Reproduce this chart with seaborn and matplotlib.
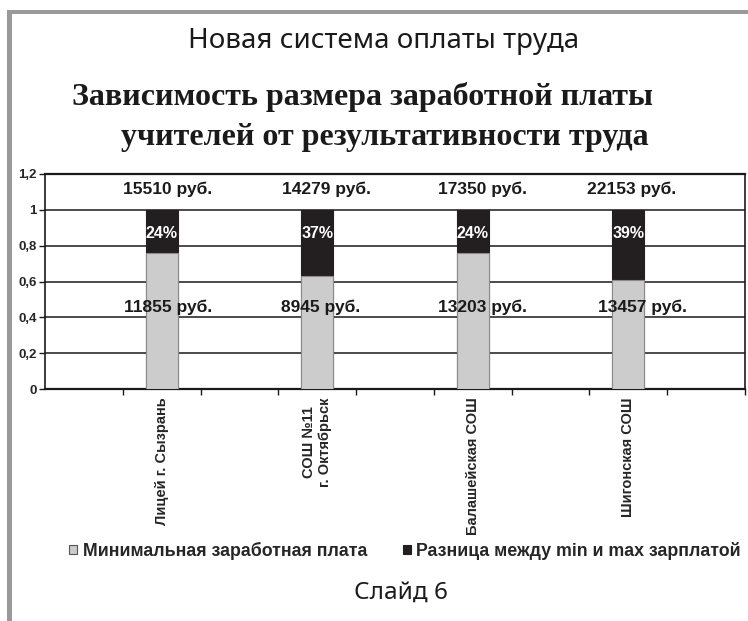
import pandas as pd
import numpy as np
import matplotlib.pyplot as plt
import seaborn as sns
from matplotlib.patches import Patch, Rectangle
from matplotlib.ticker import FixedLocator

sns.set_style("white")
plt.rcParams['font.family'] = ['Liberation Sans', 'DejaVu Sans']

# Chart data
schools = ['Лицей г. Сызрань', 'СОШ №11\nг. Октябрьск', 'Балашейская СОШ', 'Шигонская СОШ']
min_share = [0.76, 0.63, 0.76, 0.61]
diff_share = [0.24, 0.37, 0.24, 0.39]
pct_labels = ['24%', '37%', '24%', '39%']
max_salary = ['15510 руб.', '14279 руб.', '17350 руб.', '22153 руб.']
min_salary = ['11855 руб.', '8945 руб.', '13203 руб.', '13457 руб.']
y_ticks = [0, 0.2, 0.4, 0.6, 0.8, 1.0, 1.2]
y_tick_labels = ['0', '0,2', '0,4', '0,6', '0,8', '1', '1,2']
legend_labels = ['Минимальная заработная плата', 'Разница между min и max зарплатой']

df = pd.DataFrame({'school': schools, 'min_share': min_share, 'diff_share': diff_share})
df['total'] = df['min_share'] + df['diff_share']

W, H = 748, 621
fig = plt.figure(figsize=(W / 100, H / 100), dpi=100)

# slide frame
fig.add_artist(Rectangle((7 / W, 0), 5 / W, 1 - 10 / H, transform=fig.transFigure,
                         color='#9a9a9a', lw=0))
fig.add_artist(Rectangle((7 / W, 1 - 14 / H), 1, 4 / H, transform=fig.transFigure,
                         color='#9a9a9a', lw=0))

ax = fig.add_axes([45 / W, 1 - 389 / H, 700 / W, 215 / H])

dark = '#231f20'
light = '#cccccc'
bw = 0.205
sns.barplot(data=df, x='school', y='total', color=dark, saturation=1, width=bw,
            edgecolor=dark, linewidth=0.8, ax=ax, zorder=3)
sns.barplot(data=df, x='school', y='min_share', color=light, saturation=1, width=bw,
            edgecolor='#8a8a8a', linewidth=0.8, ax=ax, zorder=3)

ax.set_xlim(-0.75, 3.75)
ax.set_ylim(0, 1.2)
ax.set_yticks(y_ticks)
ax.set_yticklabels(y_tick_labels, fontweight='bold', fontsize=9.5)
ax.yaxis.grid(True, color='#1a1a1a', lw=1.1)
ax.set_axisbelow(True)
ax.tick_params(axis='y', length=4, width=1, color='#1a1a1a', pad=2, left=True)
ax.set_xticks(range(len(schools)))
ax.set_xticklabels(schools, rotation=90, va='top', ha='center', fontweight='bold',
                   fontsize=10.5, multialignment='center')
ax.tick_params(axis='x', which='major', length=0, pad=6)
ax.xaxis.set_minor_locator(FixedLocator(np.arange(-0.25, 3.8, 0.5)))
ax.tick_params(axis='x', which='minor', length=4, width=1, color='#1a1a1a', bottom=True)
ax.set_xlabel('')
ax.set_ylabel('')
for side in ['left', 'right', 'top', 'bottom']:
    ax.spines[side].set_visible(True)
    ax.spines[side].set_color('#1a1a1a')
ax.spines['left'].set_linewidth(1.2)
ax.spines['right'].set_linewidth(1.2)
ax.spines['top'].set_linewidth(1.6)
ax.spines['bottom'].set_linewidth(1.6)

# value annotations
top_dx = [0.04, 0.06, 0.06, 0.02]
low_dx = [0.04, 0.02, 0.06, 0.09]
for i in range(len(schools)):
    ax.text(i + top_dx[i], 1.115, max_salary[i], ha='center', va='center',
            fontweight='bold', fontsize=12.5, color='#1a1a1a', zorder=5)
    ax.text(i + low_dx[i], 0.455, min_salary[i], ha='center', va='center',
            fontweight='bold', fontsize=12.5, color='#1a1a1a', zorder=5)
    ax.text(i, 0.868, pct_labels[i], ha='center', va='center', fontweight='bold',
            fontsize=11.5, color='white', zorder=5)

handles = [Patch(facecolor=light, edgecolor='#555555', lw=0.8),
           Patch(facecolor=dark, edgecolor=dark, lw=0.8)]
fig.legend(handles, legend_labels, loc='center', bbox_to_anchor=(405 / W, 1 - 551 / H),
           ncol=2, frameon=False, handlelength=0.45, handleheight=0.45,
           handletextpad=0.3, columnspacing=2.0,
           prop={'weight': 'bold', 'size': 12.8})

# slide titles
fig.text(384 / W, 1 - 41 / H, 'Новая система оплаты труда', ha='center', va='center',
         fontsize=20, family=['Noto Sans', 'DejaVu Sans'], color='#1a1a1a')
fig.text(363 / W, 1 - 97 / H, 'Зависимость размера заработной платы', ha='center',
         va='center', fontsize=23, fontweight='bold', family=['Liberation Serif'],
         color='#1a1a1a')
fig.text(385 / W, 1 - 138 / H, 'учителей от результативности труда', ha='center',
         va='center', fontsize=23, fontweight='bold', family=['Liberation Serif'],
         color='#1a1a1a')
fig.text(401 / W, 1 - 593 / H, 'Слайд 6', ha='center', va='center',
         fontsize=17.5, family=['Noto Sans', 'DejaVu Sans'], color='#1a1a1a')

fig.savefig('out.png', dpi=100)
